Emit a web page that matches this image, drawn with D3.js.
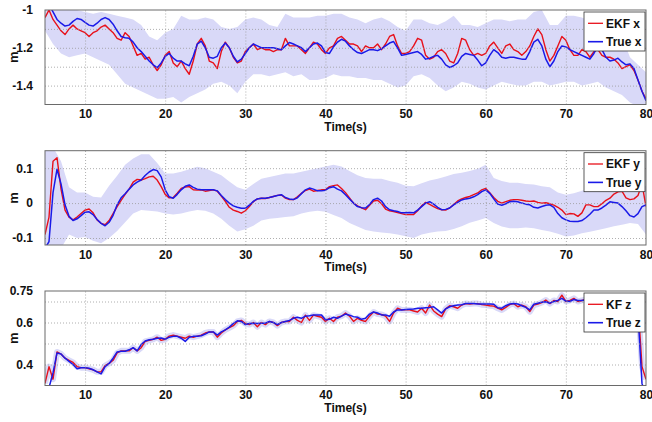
<!DOCTYPE html>
<html>
<head>
<meta charset="utf-8">
<script src="https://cdn.jsdelivr.net/npm/d3@7"></script>
<style>
  body { margin: 0; background: #fff; }
  svg { display: block; }
  text { font-family: "Liberation Sans", Arial, sans-serif; font-weight: bold; }
</style>
</head>
<body>
<div id="chart"></div>
<script>

var width = 652;
var height = 422;

// sample times (s)
var tLine = d3.range(5, 80.25, 0.5);
var tBand = d3.range(5, 80.5, 1);

var timeTicks = [10, 20, 30, 40, 50, 60, 70, 80];

// ---- x position (m)
var xEst = [
  -1.04,-1.00, -1.05,-1.08, -1.11,-1.13, -1.10,-1.08, -1.10,-1.11,
  -1.12,-1.14, -1.12,-1.11, -1.09,-1.08, -1.10,-1.12, -1.15,-1.16,
  -1.12,-1.14, -1.19,-1.24, -1.23,-1.26, -1.25,-1.29, -1.32,-1.29,
  -1.24,-1.22, -1.28,-1.30, -1.27,-1.31, -1.34,-1.27, -1.18,-1.15,
  -1.19,-1.27, -1.28,-1.31, -1.22,-1.17, -1.20,-1.25, -1.28,-1.27,
  -1.22,-1.20, -1.18,-1.21, -1.20,-1.21, -1.21,-1.22, -1.21,-1.21,
  -1.15,-1.19, -1.19,-1.19, -1.21,-1.23, -1.20,-1.17, -1.18,-1.21,
  -1.23,-1.20, -1.19,-1.15, -1.14,-1.16, -1.18,-1.18, -1.19,-1.22,
  -1.19,-1.20, -1.20,-1.18, -1.21,-1.18, -1.14,-1.13, -1.19,-1.23,
  -1.23,-1.22, -1.19,-1.15, -1.16,-1.24, -1.26,-1.25, -1.22,-1.21,
  -1.23,-1.27, -1.28,-1.23, -1.15,-1.16, -1.21,-1.24, -1.23,-1.24,
  -1.23,-1.19, -1.17,-1.20, -1.23,-1.19, -1.18,-1.21, -1.22,-1.24,
  -1.22,-1.19, -1.14,-1.10, -1.13,-1.21, -1.27,-1.24, -1.19,-1.14,
  -1.16,-1.21, -1.24,-1.24, -1.21,-1.22, -1.25,-1.22, -1.21,-1.24,
  -1.25,-1.25, -1.26,-1.28, -1.31,-1.30, -1.29,-1.32, -1.37,-1.43,
  -1.47
];
var xTrue = [
  -0.93,-0.97, -1.01,-1.05, -1.07,-1.085, -1.08,-1.06, -1.045,-1.05,
  -1.065,-1.08, -1.085,-1.07, -1.05,-1.04, -1.05,-1.075, -1.11,-1.14,
  -1.147,-1.15, -1.17,-1.20, -1.22,-1.245, -1.27,-1.29, -1.305,-1.28,
  -1.245,-1.23, -1.255,-1.27, -1.27,-1.285, -1.295,-1.245, -1.18,-1.165,
  -1.20,-1.25, -1.255,-1.245, -1.20,-1.175, -1.20,-1.245, -1.275,-1.26,
  -1.23,-1.20, -1.18,-1.19, -1.20,-1.20, -1.20,-1.20, -1.205,-1.21,
  -1.19,-1.172, -1.18,-1.19, -1.20,-1.22, -1.20,-1.18, -1.175,-1.19,
  -1.225,-1.23, -1.195,-1.17, -1.155,-1.165, -1.19,-1.21, -1.225,-1.23,
  -1.22,-1.21, -1.21,-1.215, -1.205,-1.19, -1.175,-1.167, -1.20,-1.24,
  -1.235,-1.23, -1.225,-1.22, -1.235,-1.26, -1.255,-1.245, -1.24,-1.26,
  -1.29,-1.304, -1.295,-1.28, -1.245,-1.23, -1.235,-1.24, -1.265,-1.295,
  -1.28,-1.24, -1.21,-1.225, -1.25,-1.255, -1.25,-1.25, -1.255,-1.26,
  -1.26,-1.22, -1.17,-1.155, -1.19,-1.26, -1.30,-1.27, -1.22,-1.19,
  -1.195,-1.21, -1.22,-1.23, -1.24,-1.25, -1.26,-1.23, -1.19,-1.21,
  -1.25,-1.27, -1.265,-1.255, -1.275,-1.29, -1.285,-1.31, -1.37,-1.43,
  -1.48
];
var xBandHi = [
  -0.97,-0.98,-0.99,-0.99,-1.00,-1.01,-1.02,-1.01,-1.02,-1.03,
  -1.04,-1.05,-1.08,-1.14,-1.16,-1.12,-1.10,-1.03,-1.05,-1.05,
  -1.04,-1.05,-1.09,-1.10,-1.09,-1.05,-1.04,-1.05,-1.08,-1.09,
  -1.02,-1.04,-1.04,-1.04,-1.03,-1.03,-1.02,-1.02,-1.04,-1.05,
  -1.07,-1.05,-1.04,-1.06,-1.09,-1.11,-1.05,-1.05,-1.07,-1.08,
  -1.06,-1.03,-1.08,-1.08,-1.09,-1.07,-1.05,-1.05,-1.06,-1.05,
  -1.05,-1.01,-1.00,-1.08,-1.08,-1.03,-1.03,-1.04,-1.06,-1.07,
  -1.08,-1.10,-1.14,-1.25,-1.29,-1.33
];
var xBandLo = [
  -1.11,-1.18,-1.23,-1.25,-1.24,-1.23,-1.25,-1.27,-1.29,-1.34,
  -1.39,-1.41,-1.43,-1.45,-1.47,-1.47,-1.46,-1.49,-1.46,-1.44,
  -1.42,-1.39,-1.38,-1.40,-1.44,-1.38,-1.34,-1.34,-1.35,-1.34,
  -1.33,-1.35,-1.34,-1.37,-1.37,-1.36,-1.34,-1.35,-1.35,-1.36,
  -1.36,-1.37,-1.37,-1.39,-1.41,-1.40,-1.35,-1.34,-1.36,-1.40,
  -1.43,-1.41,-1.38,-1.39,-1.41,-1.42,-1.40,-1.38,-1.39,-1.40,
  -1.40,-1.38,-1.38,-1.40,-1.39,-1.38,-1.38,-1.40,-1.39,-1.38,
  -1.41,-1.43,-1.45,-1.49,-1.51,-1.52
];
var xTickVals = [-1, -1.2, -1.4];
var xGridVals = [-1.1, -1.2, -1.3, -1.4];

// ---- y position (m)
var yEst = [
  -0.09,-0.04, 0.12,0.13, 0.04,-0.02, -0.04,-0.048, -0.04,-0.03,
  -0.02,-0.017, -0.028,-0.048, -0.058,-0.062, -0.05,-0.03, -0.01,0.008,
  0.025,0.04, 0.06,0.068, 0.066,0.07, 0.075,0.077, 0.066,0.047,
  0.025,0.015, 0.016,0.028, 0.042,0.046, 0.047,0.038, 0.037,0.038,
  0.034,0.036, 0.038,0.034, 0.02,0.005, -0.012,-0.02, -0.024,-0.029,
  -0.022,-0.01, 0.004,0.012, 0.014,0.013, 0.016,0.019, 0.022,0.023,
  0.014,0.01, 0.01,0.018, 0.028,0.036, 0.04,0.034, 0.036,0.038,
  0.038,0.047, 0.05,0.052, 0.042,0.03, 0.015,0.0, -0.008,-0.014,
  -0.019,-0.006, 0.006,0.008, -0.002,-0.017, -0.022,-0.024, -0.027,-0.03,
  -0.033,-0.033, -0.033,-0.022, -0.008,0.002, -0.004,-0.01, -0.016,-0.019,
  -0.02,-0.014, -0.004,0.006, 0.012,0.016, 0.019,0.024, 0.029,0.038,
  0.042,0.03, 0.016,0.005, 0.0,0.004, 0.008,0.01, 0.01,0.008,
  0.006,0.005, 0.006,0.002, 0.0,0.001, -0.002,-0.006, -0.012,-0.02,
  -0.033,-0.03, -0.031,-0.038, -0.028,-0.005, -0.005,-0.01, -0.01,-0.002,
  0.008,0.014, 0.026,0.032, 0.034,0.015, 0.01,0.012, 0.022,0.055,
  -0.01
];
var yTrue = [
  -0.13,-0.11, 0.03,0.097, 0.055,-0.005, -0.038,-0.05, -0.045,-0.036,
  -0.026,-0.025, -0.033,-0.047, -0.058,-0.065, -0.055,-0.035, -0.005,0.015,
  0.027,0.04, 0.052,0.06, 0.066,0.079, 0.089,0.096, 0.093,0.075,
  0.038,0.018, 0.014,0.025, 0.038,0.048, 0.052,0.045, 0.04,0.038,
  0.038,0.038, 0.038,0.035, 0.022,0.01, 0.0,-0.008, -0.012,-0.015,
  -0.015,-0.006, 0.005,0.012, 0.014,0.014, 0.016,0.019, 0.022,0.024,
  0.016,0.012, 0.01,0.015, 0.027,0.038, 0.043,0.04, 0.035,0.035,
  0.037,0.044, 0.047,0.04, 0.035,0.024, 0.012,0.0, -0.01,-0.013,
  -0.014,-0.004, 0.01,0.014, 0.006,-0.01, -0.019,-0.022, -0.024,-0.028,
  -0.028,-0.027, -0.028,-0.02, -0.01,0.0, 0.004,-0.003, -0.012,-0.019,
  -0.018,-0.014, -0.005,0.002, 0.009,0.012, 0.014,0.018, 0.024,0.033,
  0.038,0.028, 0.012,-0.003, -0.006,-0.002, 0.004,0.005, 0.004,0.0,
  -0.003,-0.005, -0.012,-0.014, -0.01,-0.006, -0.005,-0.012, -0.03,-0.042,
  -0.048,-0.052, -0.053,-0.053, -0.05,-0.042, -0.032,-0.02, -0.02,-0.014,
  -0.006,0.004, 0.002,0.0, -0.01,-0.022, -0.036,-0.04, -0.03,-0.01,
  -0.005
];
var yBandHi = [
  0.16,0.16,0.12,0.045,0.03,0.03,0.018,0.016,0.05,0.078,
  0.11,0.128,0.14,0.14,0.115,0.085,0.085,0.09,0.097,0.104,
  0.10,0.09,0.08,0.062,0.045,0.038,0.055,0.07,0.075,0.08,
  0.085,0.085,0.09,0.095,0.10,0.105,0.11,0.105,0.092,0.08,
  0.072,0.07,0.07,0.063,0.058,0.05,0.048,0.057,0.065,0.07,
  0.076,0.083,0.087,0.092,0.098,0.11,0.072,0.063,0.058,0.058,
  0.055,0.053,0.048,0.045,0.03,0.024,0.028,0.035,0.04,0.046,
  0.052,0.06,0.063,0.067,0.065,0.048
];
var yBandLo = [
  -0.13,-0.13,-0.13,-0.09,-0.10,-0.097,-0.108,-0.115,-0.10,-0.08,
  -0.055,-0.03,-0.02,-0.022,-0.024,-0.03,-0.033,-0.03,-0.024,-0.02,
  -0.022,-0.03,-0.045,-0.065,-0.081,-0.075,-0.065,-0.05,-0.045,-0.043,
  -0.04,-0.038,-0.03,-0.025,-0.022,-0.025,-0.034,-0.043,-0.057,-0.067,
  -0.077,-0.081,-0.084,-0.086,-0.09,-0.095,-0.10,-0.09,-0.085,-0.081,
  -0.08,-0.074,-0.066,-0.056,-0.05,-0.043,-0.057,-0.067,-0.072,-0.072,
  -0.07,-0.072,-0.077,-0.081,-0.088,-0.096,-0.093,-0.086,-0.082,-0.077,
  -0.072,-0.066,-0.062,-0.057,-0.06,-0.09
];
var yTickVals = [0.1, 0, -0.1];
var yGridVals = [0.1, 0, -0.1];

// ---- z position (m)
var zEst = [
  0.31,0.39, 0.33,0.46, 0.45,0.43, 0.42,0.41, 0.39,0.385,
  0.385,0.38, 0.375,0.365, 0.365,0.395, 0.405,0.42, 0.455,0.465,
  0.465,0.465, 0.48,0.465, 0.48,0.51, 0.515,0.52, 0.53,0.515,
  0.52,0.535, 0.54,0.535, 0.53,0.525, 0.535,0.53, 0.535,0.54,
  0.55,0.555, 0.555,0.53, 0.55,0.565, 0.575,0.585, 0.605,0.61,
  0.595,0.59, 0.60,0.58, 0.60,0.59, 0.605,0.60, 0.585,0.60,
  0.605,0.605, 0.625,0.61, 0.60,0.635, 0.61,0.635, 0.63,0.625,
  0.605,0.62, 0.605,0.625, 0.63,0.645, 0.63,0.605, 0.62,0.61,
  0.605,0.63, 0.65,0.64, 0.638,0.63, 0.605,0.645, 0.668,0.66,
  0.66,0.66, 0.655,0.65, 0.668,0.645, 0.683,0.655, 0.64,0.628,
  0.665,0.68, 0.675,0.668, 0.683,0.69, 0.688,0.69, 0.69,0.685,
  0.683,0.68, 0.678,0.668, 0.66,0.672, 0.685,0.69, 0.675,0.683,
  0.675,0.652, 0.683,0.688, 0.695,0.707, 0.69,0.705, 0.70,0.73,
  0.70,0.705, 0.715,0.70, 0.705,0.71, 0.70,0.705, 0.715,0.70,
  0.705,0.72, 0.71,0.70, 0.715,0.705, 0.71,0.70, 0.69,0.39,
  0.33
];
var zTrue = [
  0.28,0.29, 0.36,0.455, 0.45,0.43, 0.415,0.40, 0.38,0.385,
  0.385,0.382, 0.375,0.365, 0.355,0.39, 0.405,0.43, 0.46,0.463,
  0.463,0.47, 0.48,0.465, 0.495,0.512, 0.518,0.52, 0.525,0.526,
  0.52,0.53, 0.534,0.534, 0.525,0.51, 0.53,0.534, 0.534,0.537,
  0.545,0.555, 0.555,0.54, 0.555,0.565, 0.578,0.595, 0.608,0.605,
  0.59,0.595, 0.597,0.595, 0.597,0.597, 0.605,0.60, 0.59,0.60,
  0.605,0.61, 0.62,0.625, 0.62,0.63, 0.632,0.636, 0.636,0.636,
  0.613,0.615, 0.625,0.62, 0.63,0.64, 0.635,0.628, 0.625,0.615,
  0.62,0.64, 0.65,0.645, 0.636,0.636, 0.63,0.65, 0.66,0.66,
  0.662,0.663, 0.664,0.668, 0.668,0.67, 0.672,0.675, 0.66,0.645,
  0.665,0.675, 0.68,0.683, 0.685,0.69, 0.69,0.69, 0.688,0.688,
  0.688,0.688, 0.687,0.67, 0.668,0.68, 0.688,0.69, 0.688,0.68,
  0.672,0.66, 0.687,0.692, 0.697,0.699, 0.692,0.70, 0.705,0.715,
  0.702,0.70, 0.71,0.705, 0.705,0.708, 0.70,0.705, 0.71,0.705,
  0.708,0.712, 0.708,0.705, 0.71,0.705, 0.708,0.70, 0.64,0.31,
  0.25
];
var zTickVals = [0.75, 0.6, 0.4];
var zGridVals = [0.7, 0.6, 0.5, 0.4];

var estColor = '#e8101a';
var trueColor = '#1a1ae8';
var bandColor = '#d9d9f8';

var marginLeft = 45;
var marginRight = 646;

var panels = [
  { top: 10,    bottom: 104.5, domain: [-1.5, -1],    est: xEst, tru: xTrue, hi: xBandHi, lo: xBandLo,
    ticks: xTickVals, grid: xGridVals, names: ['EKF x', 'True x'] },
  { top: 150.7, bottom: 245,   domain: [-0.12, 0.15], est: yEst, tru: yTrue, hi: yBandHi, lo: yBandLo,
    ticks: yTickVals, grid: yGridVals, names: ['EKF y', 'True y'] },
  { top: 291,   bottom: 385.5, domain: [0.3, 0.75],   est: zEst, tru: zTrue, hi: null, lo: null,
    ticks: zTickVals, grid: zGridVals, names: ['KF z', 'True z'] }
];

var svg = d3.select('#chart')
  .append('svg')
  .attr('width', width)
  .attr('height', height)
  .style('background-color', '#fff');

var x = d3.scaleLinear()
  .domain([5, 80])
  .range([marginLeft, marginRight]);

panels.forEach(function(p, k) {

  var y = d3.scaleLinear()
    .domain(p.domain)
    .range([p.bottom, p.top]);

  var g = svg.append('g').attr('class', 'panel');

  svg.append('clipPath')
    .attr('id', 'clip' + k)
    .append('rect')
    .attr('x', marginLeft)
    .attr('y', p.top)
    .attr('width', marginRight - marginLeft)
    .attr('height', p.bottom - p.top);

  var plot = g.append('g').attr('clip-path', 'url(#clip' + k + ')');

  // sigma band
  if (p.hi) {
    plot.append('path')
      .datum(tBand)
      .attr('fill', bandColor)
      .attr('d', d3.area()
        .x(function(d) { return x(d); })
        .y0(function(d, i) { return y(p.lo[i]); })
        .y1(function(d, i) { return y(p.hi[i]); }));
  }

  // grid
  g.append('g')
    .attr('class', 'grid')
    .attr('transform', 'translate(' + marginLeft + ',0)')
    .call(d3.axisLeft(y).tickValues(p.grid).tickSize(-(marginRight - marginLeft)).tickFormat(''))
    .call(function(s) { s.select('.domain').remove(); });

  g.append('g')
    .attr('class', 'grid')
    .attr('transform', 'translate(0,' + p.bottom + ')')
    .call(d3.axisBottom(x).tickValues([10, 20, 30, 40, 50, 60, 70]).tickSize(-(p.bottom - p.top)).tickFormat(''))
    .call(function(s) { s.select('.domain').remove(); });

  g.selectAll('.grid line')
    .attr('stroke', '#9a9a9a')
    .attr('stroke-width', 0.8)
    .attr('stroke-dasharray', '1,2');

  var line = d3.line()
    .x(function(d, i) { return x(tLine[i]); })
    .y(function(d) { return y(d); });

  // narrow band for z drawn as a soft halo round the estimate
  if (!p.hi) {
    plot.append('path')
      .datum(p.est)
      .attr('fill', 'none')
      .attr('stroke', bandColor)
      .attr('stroke-width', 6)
      .attr('stroke-linejoin', 'round')
      .attr('d', line);
  }

  plot.append('path')
    .datum(p.est)
    .attr('fill', 'none')
    .attr('stroke', estColor)
    .attr('stroke-width', 1.4)
    .attr('stroke-linejoin', 'round')
    .attr('d', line);

  plot.append('path')
    .datum(p.tru)
    .attr('fill', 'none')
    .attr('stroke', trueColor)
    .attr('stroke-width', 1.5)
    .attr('stroke-linejoin', 'round')
    .attr('d', line);

  // box
  g.append('rect')
    .attr('x', marginLeft)
    .attr('y', p.top)
    .attr('width', marginRight - marginLeft)
    .attr('height', p.bottom - p.top)
    .attr('fill', 'none')
    .attr('stroke', '#6a6a6a')
    .attr('stroke-width', 1);

  // axes labels
  var yAxisG = g.append('g')
    .attr('transform', 'translate(' + marginLeft + ',0)')
    .call(d3.axisLeft(y).tickValues(p.ticks).tickSize(0).tickPadding(12)
      .tickFormat(function(d) { return String(d); }));
  yAxisG.select('.domain').remove();

  var xAxisG = g.append('g')
    .attr('transform', 'translate(0,' + p.bottom + ')')
    .call(d3.axisBottom(x).tickValues(timeTicks).tickSize(0).tickPadding(5));
  xAxisG.select('.domain').remove();

  g.selectAll('.tick text')
    .attr('fill', '#111')
    .style('font-size', '12px')
    .style('font-family', '"Liberation Sans", Arial, sans-serif')
    .style('font-weight', 'bold');

  g.append('text')
    .attr('x', (marginLeft + marginRight) / 2)
    .attr('y', p.bottom + 26)
    .attr('text-anchor', 'middle')
    .style('font-size', '12px')
    .attr('fill', '#111')
    .text('Time(s)');

  g.append('text')
    .attr('transform', 'translate(18,' + ((p.top + p.bottom) / 2) + ') rotate(-90)')
    .attr('text-anchor', 'middle')
    .style('font-size', '13px')
    .attr('fill', '#111')
    .text('m');

  // legend
  var lx = 584, ly = p.top + 2;
  var leg = g.append('g');
  leg.append('rect')
    .attr('x', lx)
    .attr('y', ly)
    .attr('width', 61)
    .attr('height', 39)
    .attr('fill', '#fff')
    .attr('stroke', '#333')
    .attr('stroke-width', 0.8);

  [estColor, trueColor].forEach(function(c, j) {
    var cy = ly + 11.3 + j * 18.4;
    leg.append('line')
      .attr('x1', lx + 4)
      .attr('x2', lx + 19)
      .attr('y1', cy)
      .attr('y2', cy)
      .attr('stroke', c)
      .attr('stroke-width', j ? 1.6 : 1.3);
    leg.append('text')
      .attr('x', lx + 22)
      .attr('y', cy + 4.3)
      .style('font-size', '12px')
      .attr('fill', '#111')
      .text(p.names[j]);
  });
});

</script>
</body>
</html>
